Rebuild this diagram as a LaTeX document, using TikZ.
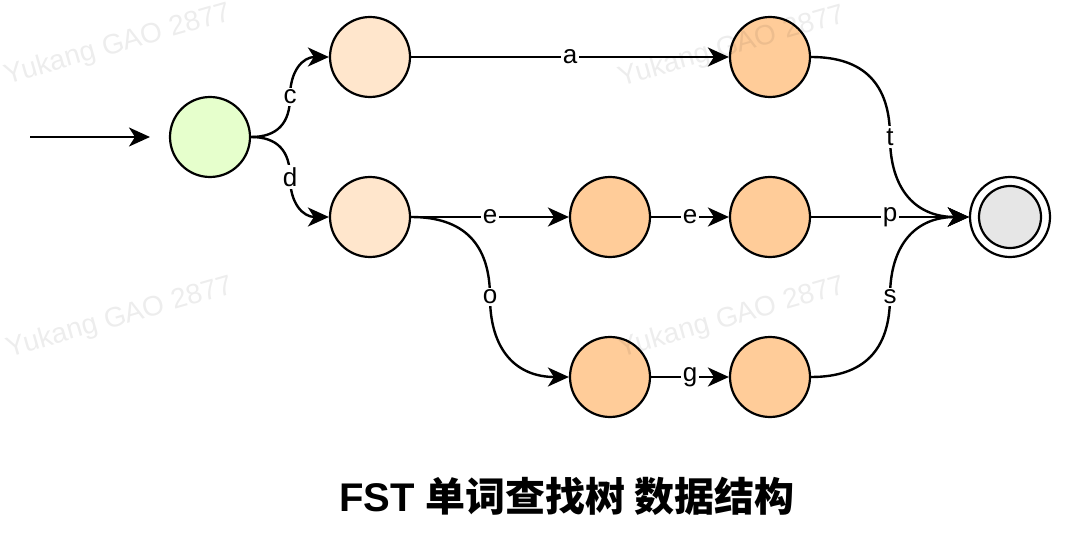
\documentclass[tikz,border=0pt]{standalone}
\usepackage{fontspec}
\setmainfont{Liberation Sans}
\newfontfamily\cjk{Noto Sans CJK SC}
\usetikzlibrary{arrows.meta,calc}
\definecolor{rootgreen}{HTML}{E6FFCC}
\definecolor{peach}{HTML}{FFE6CC}
\definecolor{stateorange}{HTML}{FFCC99}
\definecolor{endgray}{HTML}{E6E6E6}

\begin{document}
\begin{tikzpicture}[x=1pt,y=-1pt,
  state/.style={circle,draw=black,line width=2.2pt,minimum size=80pt,inner sep=0pt},
  edge/.style={line width=2.4pt,-{Stealth[length=21pt,width=19pt,inset=6pt]}},
  lbl/.style={fill=white,inner sep=2pt,font=\fontsize{26}{28}\selectfont},
  wmark/.style={text=black,text opacity=0.07,rotate=16,font=\fontsize{28}{30}\selectfont}]
\useasboundingbox (0,0) rectangle (1068,537);
% states
\node[state,fill=rootgreen] (root) at (210,137) {};
\node[state,fill=peach] (c) at (370,57) {};
\node[state,fill=peach] (d) at (370,217) {};
\node[state,fill=stateorange] (ca) at (770,57) {};
\node[state,fill=stateorange] (de) at (610,217) {};
\node[state,fill=stateorange] (dee) at (770,217) {};
\node[state,fill=stateorange] (do) at (610,377) {};
\node[state,fill=stateorange] (dog) at (770,377) {};
\node[state,fill=white] (fin) at (1010,217) {};
\node[circle,draw=black,line width=2.2pt,fill=endgray,minimum size=62pt] (finin) at (fin) {};
% entry arrow
\coordinate (entry) at (30,137);
\coordinate (entryend) at (150,137);
\draw[edge] (entry) -- (entryend);
\foreach \a/\b/\l in {c/ca/a, d/de/e, de/dee/e, dee/fin/p, do/dog/g} % straight edges
\draw[edge] (\a) -- node[lbl] {\l} (\b);
\foreach \a/\b/\l/\i/\o in {root/c/c/-90/90, root/d/d/90/-90, d/do/o/90/-90,
  ca/fin/t/90/-90, dog/fin/s/-90/90} % curved edges, label at the bend
\draw[edge] (\a.east) to[out=0,in=\i,looseness=1.2] ($(\a.east)!0.5!(\b.west)$)
  node[lbl] {\l} to[out=\o,in=180,looseness=1.2] (\b.west);
% title
\node (title) at (567,496) {\fontsize{40}{42}\selectfont\bfseries FST {\cjk\bfseries 单词查找树 数据结构}};
\foreach \p [count=\i] in {(118,45),(732,47),(120,318),(732,318)} % watermarks
\node[wmark] (wm\i) at \p {Yukang GAO 2877};
\end{tikzpicture}
\end{document}
